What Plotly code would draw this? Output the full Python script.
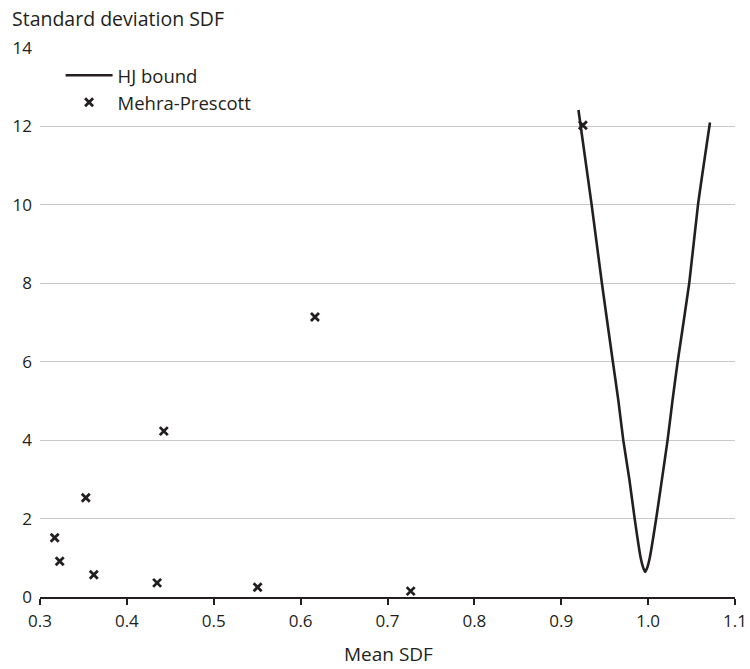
import plotly.graph_objects as go

# Hansen-Jagannathan bound
hj_mean = [0.9198, 0.9350, 0.9468, 0.9594, 0.9658, 0.9714, 0.9784, 0.9845, 0.9914, 0.9943, 0.9966,
           0.9990, 1.0019, 1.0093, 1.0159, 1.0224, 1.0280, 1.0340, 1.0473, 1.0574, 1.0712]
hj_std = [12.42, 10.0, 8.0, 6.0, 5.0, 4.0, 3.0, 2.0, 1.0, 0.75, 0.64,
          0.75, 1.0, 2.0, 3.0, 4.0, 5.0, 6.0, 8.0, 10.0, 12.10]

# Mehra-Prescott model points
mp_mean = [0.3169, 0.3227, 0.3527, 0.3619, 0.4348, 0.4425, 0.5505, 0.6165, 0.7267, 0.9249]
mp_std = [1.51, 0.91, 2.53, 0.57, 0.36, 4.23, 0.25, 7.14, 0.15, 12.03]

x_ticks = [0.3, 0.4, 0.5, 0.6, 0.7, 0.8, 0.9, 1.0, 1.1]
x_tick_text = ["0.3", "0.4", "0.5", "0.6", "0.7", "0.8", "0.9", "1.0", "1.1"]
y_ticks = [0, 2, 4, 6, 8, 10, 12, 14]

FONT = "Open Sans"
TXT = "#231f20"

fig = go.Figure()
fig.add_trace(go.Scatter(x=hj_mean, y=hj_std, mode="lines", name="HJ bound",
                         line=dict(color=TXT, width=2.6, shape="spline", smoothing=0.5)))
fig.add_trace(go.Scatter(x=mp_mean, y=mp_std, mode="markers", name="Mehra-Prescott",
                         marker=dict(symbol="x-thin", size=8,
                                     line=dict(color=TXT, width=2.8))))

fig.update_layout(
    width=750, height=669,
    margin=dict(l=40, r=15, t=48, b=72, pad=0, autoexpand=False),
    paper_bgcolor="white", plot_bgcolor="white",
    font=dict(family=FONT, size=17, color=TXT),
    showlegend=True,
    legend=dict(x=0.0296, y=0.984, xanchor="left", yanchor="top",
                bgcolor="rgba(0,0,0,0)", borderwidth=0,
                font=dict(family=FONT, size=18.5, color=TXT),
                itemwidth=47, tracegroupgap=0),
    xaxis=dict(range=[0.3, 1.1], tickvals=x_ticks, ticktext=x_tick_text,
               showgrid=False, zeroline=False, automargin=False,
               showline=True, linecolor=TXT, linewidth=1.5,
               ticks="outside", ticklen=6, tickcolor=TXT, tickwidth=1.5,
               ticklabelstandoff=2,
               tickfont=dict(family=FONT, size=17, color=TXT)),
    yaxis=dict(range=[0, 14], tickvals=y_ticks, showgrid=True, automargin=False,
               gridcolor="#c8c8c8", gridwidth=1, zeroline=False,
               showline=False, ticks="", ticklabelstandoff=7,
               tickfont=dict(family=FONT, size=17, color=TXT)),
    annotations=[
        dict(text="Standard deviation SDF", xref="paper", yref="paper",
             x=0, y=1, xshift=-30, yshift=30, xanchor="left", yanchor="middle",
             showarrow=False, font=dict(family=FONT, size=19.5, color=TXT)),
        dict(text="Mean SDF", xref="paper", yref="paper",
             x=0.5, y=0, xshift=1, yshift=-57, xanchor="center", yanchor="middle",
             showarrow=False, font=dict(family=FONT, size=19, color=TXT)),
    ],
)

fig.write_html(
    "out.html",
    config={"displayModeBar": False},
    post_script="document.body.style.margin='0';document.body.style.overflow='hidden';",
)
